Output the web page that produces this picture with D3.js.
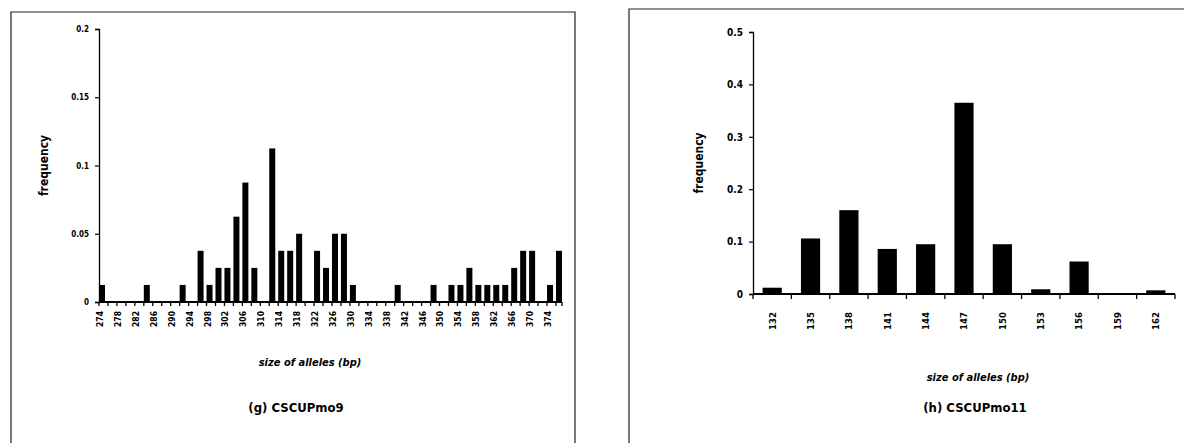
<!DOCTYPE html>
<html>
<head>
<meta charset="utf-8">
<script src="https://cdn.jsdelivr.net/npm/d3@7/dist/d3.min.js"></script>
<style>
  body { margin: 0; background: #fff; }
  svg { display: block; }
  text { font-family: "Liberation Sans Narrow", "DejaVu Sans Condensed", sans-serif; font-weight: bold; fill: #000; }
</style>
</head>
<body>
<div id="svg"></div>
<script>
// (g) CSCUPmo9 - allele sizes (bp), every 2 bp
var sizesG = [274, 276, 278, 280, 282, 284, 286, 288, 290, 292, 294, 296, 298, 300, 302, 304, 306, 308, 310, 312,
              314, 316, 318, 320, 322, 324, 326, 328, 330, 332, 334, 336, 338, 340, 342, 344, 346, 348, 350, 352,
              354, 356, 358, 360, 362, 364, 366, 368, 370, 372, 374, 376];
var freqG = [0.0125, 0, 0, 0, 0, 0.0125, 0, 0, 0, 0.0125, 0, 0.0375, 0.0125, 0.025, 0.025, 0.0625, 0.0875, 0.025, 0, 0.1125,
             0.0375, 0.0375, 0.05, 0, 0.0375, 0.025, 0.05, 0.05, 0.0125, 0, 0, 0, 0, 0.0125, 0, 0, 0, 0.0125, 0, 0.0125,
             0.0125, 0.025, 0.0125, 0.0125, 0.0125, 0.0125, 0.025, 0.0375, 0.0375, 0, 0.0125, 0.0375];
var labelsG = [274, 278, 282, 286, 290, 294, 298, 302, 306, 310, 314, 318, 322, 326, 330, 334, 338, 342, 346, 350,
               354, 358, 362, 366, 370, 374];
var yTicksG = [0, 0.05, 0.1, 0.15, 0.2];

// (h) CSCUPmo11
var sizesH = [132, 135, 138, 141, 144, 147, 150, 153, 156, 159, 162];
var freqH = [0.012, 0.106, 0.16, 0.086, 0.095, 0.365, 0.095, 0.009, 0.062, 0, 0.007];
var yTicksH = [0, 0.1, 0.2, 0.3, 0.4, 0.5];

var W = 1184, H = 443;

var svg = d3.select('#svg').append('svg')
            .attr('width', W)
            .attr('height', H);

// panel frames (scanned page borders)
var frame = svg.append('g').attr('fill', 'none').attr('stroke', '#222').attr('stroke-width', 1.2);
frame.append('path').attr('d', 'M11,443 V12 H575 V443');
frame.append('path').attr('d', 'M629,443 V9 H1184');

function drawChart(opt) {
  var g = svg.append('g');

  var x = d3.scaleBand()
            .domain(opt.sizes)
            .range([opt.left, opt.right])
            .paddingInner(opt.pad)
            .paddingOuter(opt.padOuter)
            .align(opt.align);

  var y = d3.scaleLinear()
            .domain([0, opt.yMax])
            .range([opt.bottom, opt.top]);

  // bars
  g.selectAll('.bar')
    .data(opt.freq)
    .enter().append('rect')
    .attr('class', 'bar')
    .attr('x', function(d, i) { return x(opt.sizes[i]); })
    .attr('width', x.bandwidth())
    .attr('y', function(d) { return y(d); })
    .attr('height', function(d) { return opt.bottom - y(d); })
    .attr('fill', '#000');

  // y axis
  var yAxis = d3.axisLeft(y)
                .tickValues(opt.yTicks)
                .tickSize(4)
                .tickFormat(function(d) { return d === 0 ? '0' : String(d); });
  var ya = g.append('g')
    .attr('transform', 'translate(' + opt.left + ',0)')
    .call(yAxis);
  ya.select('.domain').attr('stroke', '#000').attr('stroke-width', 1.3);
  ya.selectAll('.tick line').attr('stroke', '#000').attr('stroke-width', 1.2);
  ya.selectAll('.tick text')
    .attr('x', -opt.yLabelGap)
    .style('font-size', opt.yFont + 'px');

  // x axis line + ticks between categories
  var step = x.step();
  var bounds = opt.sizes.map(function(s) { return x(s) - (opt.align === 0 ? 0 : step * opt.pad / 2); });
  bounds.push(opt.right);
  g.append('line')
    .attr('x1', opt.left).attr('x2', opt.right)
    .attr('y1', opt.bottom).attr('y2', opt.bottom)
    .attr('stroke', '#000').attr('stroke-width', 2);
  g.selectAll('.xtick')
    .data(bounds)
    .enter().append('line')
    .attr('x1', function(d) { return d; }).attr('x2', function(d) { return d; })
    .attr('y1', opt.bottom).attr('y2', opt.bottom + opt.xTickLen)
    .attr('stroke', '#000').attr('stroke-width', 1.3);

  // x labels, rotated
  g.selectAll('.xlab')
    .data(opt.labels)
    .enter().append('text')
    .attr('transform', function(d) {
      var cx = x(d) + x.bandwidth() / 2 + opt.labelShift;
      return 'translate(' + cx + ',' + opt.labelY + ') rotate(-90)';
    })
    .attr('text-anchor', 'middle')
    .attr('dy', '0.35em')
    .style('font-size', opt.xFont + 'px')
    .text(function(d) { return d; });

  // axis titles
  g.append('text')
    .attr('transform', 'translate(' + opt.yTitleX + ',' + (opt.top + opt.bottom) / 2 + ') rotate(-90)')
    .attr('text-anchor', 'middle')
    .style('font-size', '12px')
    .text('frequency');

  g.append('text')
    .attr('x', opt.xTitleX).attr('y', opt.xTitleY)
    .attr('text-anchor', 'middle')
    .style('font-size', '11px')
    .style('font-style', 'italic')
    .text('size of alleles (bp)');

  g.append('text')
    .attr('x', opt.titleX).attr('y', 412)
    .attr('text-anchor', 'middle')
    .style('font-size', '13px')
    .text(opt.title);
}

drawChart({
  sizes: sizesG, freq: freqG, labels: labelsG, yTicks: yTicksG, yMax: 0.2,
  left: 99, right: 562, top: 29, bottom: 302,
  pad: 0.33, padOuter: 0, align: 0,
  yFont: 8, yLabelGap: 10, xFont: 8.5, xTickLen: 4, labelY: 319, labelShift: -2,
  yTitleX: 48, xTitleX: 310, xTitleY: 366, titleX: 296, title: '(g) CSCUPmo9'
});

drawChart({
  sizes: sizesH, freq: freqH, labels: sizesH, yTicks: yTicksH, yMax: 0.5,
  left: 753, right: 1175, top: 32, bottom: 294,
  pad: 0.5, padOuter: 0.25, align: 0.5,
  yFont: 10, yLabelGap: 10, xFont: 9.5, xTickLen: 5, labelY: 321, labelShift: 0,
  yTitleX: 703, xTitleX: 978, xTitleY: 381, titleX: 975, title: '(h) CSCUPmo11'
});
</script>
</body>
</html>
